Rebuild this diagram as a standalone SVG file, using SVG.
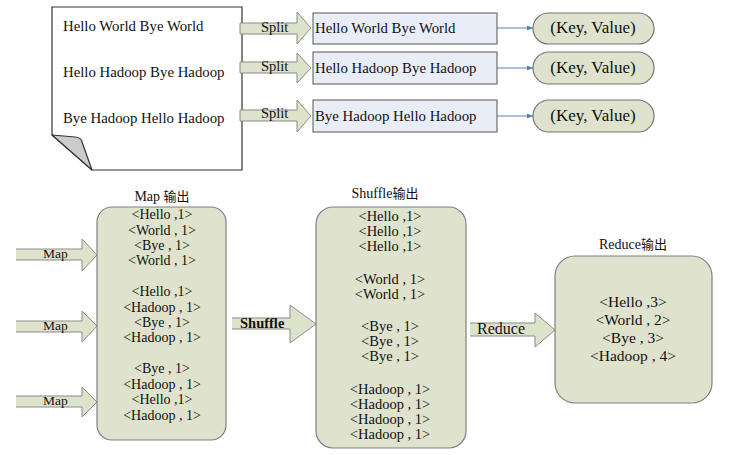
<svg xmlns="http://www.w3.org/2000/svg" width="745" height="455" viewBox="0 0 745 455">
<style>
.t{font-family:"Liberation Serif","Times New Roman","DejaVu Serif",serif;fill:#111}
.cjk{font-family:"Noto Sans CJK SC","Noto Sans CJK TC",sans-serif}
.arrow{fill:#dde2cb;stroke:#8a8a8a;stroke-width:1}
.rbox{fill:#dfe3cd;stroke:#808080;stroke-width:1.2}
.sbox{fill:#e9edf7;stroke:#555;stroke-width:1}
.pill{fill:#dfe3cd;stroke:#777;stroke-width:1.2}
.blue{stroke:#4f81bd;stroke-width:1.2;fill:none}
.c{text-anchor:middle}
</style>
<defs>
<marker id="bh" viewBox="0 0 10 10" refX="10" refY="5" markerWidth="6" markerHeight="6" orient="auto" markerUnits="userSpaceOnUse">
<path d="M0,1 L10,5 L0,9 z" fill="#4f81bd"/>
</marker>
</defs>
<rect width="745" height="455" fill="#fff"/>

<g id="document">
<path d="M52,7 H242 V170 H92 L52,135 Z" fill="#fff" stroke="#333" stroke-width="1.2"/>
<path d="M52,135 L75,137 Q82,138 82,142 L92,170 Z" fill="#cccccc" stroke="#333" stroke-width="1.2" stroke-linejoin="round"/>
<text class="t" x="63" y="31" font-size="14.8">Hello World Bye World</text>
<text class="t" x="63" y="77" font-size="14.8">Hello Hadoop Bye Hadoop</text>
<text class="t" x="63" y="123" font-size="14.8">Bye Hadoop Hello Hadoop</text>
</g>

<g id="connectors">
<path class="arrow" d="M240,23 H297 V12 L311,28 L297,44 V34 H240 Z"/>
<text class="t" x="261" y="32" font-size="14.5">Split</text>
<path class="arrow" d="M240,62 H297 V53 L311,68 L297,83 V73 H240 Z"/>
<text class="t" x="261" y="71" font-size="14.5">Split</text>
<path class="arrow" d="M240,110 H297 V100 L311,116 L297,132 V121 H240 Z"/>
<text class="t" x="261" y="118" font-size="14.5">Split</text>

<line class="blue" x1="497" y1="28" x2="533" y2="28" marker-end="url(#bh)"/>
<line class="blue" x1="497" y1="68" x2="533" y2="68" marker-end="url(#bh)"/>
<line class="blue" x1="497" y1="116" x2="533" y2="116" marker-end="url(#bh)"/>

<path class="arrow" d="M16,249 H82 V239 L97,255 L82,271 V260 H16"/>
<text class="t" x="43" y="258" font-size="13.5">Map</text>
<path class="arrow" d="M16,321 H82 V311 L97,326 L82,342 V332 H16"/>
<text class="t" x="43" y="330" font-size="13.5">Map</text>
<path class="arrow" d="M16,396 H82 V387 L97,402 L82,417 V407 H16"/>
<text class="t" x="43" y="405" font-size="13.5">Map</text>

<path class="arrow" d="M232,318 H290 V305 L316,324 L290,343 V329 H232"/>
<text class="t" x="240" y="328" font-size="14.5" font-weight="bold">Shuffle</text>

<path class="arrow" d="M470,323 H535 V313 L555,330 L535,347 V336 H470"/>
<text class="t" x="477" y="334" font-size="16">Reduce</text>
</g>

<g id="split1">
<rect class="sbox" x="313" y="13" width="184" height="31"/>
<text class="t" x="315" y="33" font-size="14.8">Hello World Bye World</text>
</g>
<g id="split2">
<rect class="sbox" x="313" y="52" width="184" height="32"/>
<text class="t" x="315" y="73" font-size="14.8">Hello Hadoop Bye Hadoop</text>
</g>
<g id="split3">
<rect class="sbox" x="313" y="100" width="184" height="32"/>
<text class="t" x="315" y="121" font-size="14.8">Bye Hadoop Hello Hadoop</text>
</g>

<g id="kv1">
<rect class="pill" x="533" y="13" width="121" height="31" rx="15.5"/>
<text class="t c" x="593" y="33" font-size="17">(Key, Value)</text>
</g>
<g id="kv2">
<rect class="pill" x="533" y="52" width="121" height="32" rx="16"/>
<text class="t c" x="593" y="73" font-size="17">(Key, Value)</text>
</g>
<g id="kv3">
<rect class="pill" x="533" y="100" width="121" height="32" rx="16"/>
<text class="t c" x="593" y="121" font-size="17">(Key, Value)</text>
</g>

<g id="map-output">
<text class="t c" x="162" y="201" font-size="14">Map <tspan class="cjk" font-size="13">输出</tspan></text>
<rect class="rbox" x="97" y="207" width="129" height="233" rx="15"/>
<g class="t c" font-size="14">
<text x="162" y="219">&lt;Hello ,1&gt;</text>
<text x="162" y="235">&lt;World , 1&gt;</text>
<text x="162" y="250">&lt;Bye , 1&gt;</text>
<text x="162" y="265">&lt;World , 1&gt;</text>
<text x="162" y="296">&lt;Hello ,1&gt;</text>
<text x="162" y="312">&lt;Hadoop , 1&gt;</text>
<text x="162" y="327">&lt;Bye , 1&gt;</text>
<text x="162" y="342">&lt;Hadoop , 1&gt;</text>
<text x="162" y="373">&lt;Bye , 1&gt;</text>
<text x="162" y="389">&lt;Hadoop , 1&gt;</text>
<text x="162" y="404">&lt;Hello ,1&gt;</text>
<text x="162" y="420">&lt;Hadoop , 1&gt;</text>
</g>
</g>

<g id="shuffle-output">
<text class="t c" x="385" y="198" font-size="14">Shuffle<tspan class="cjk" font-size="13">输出</tspan></text>
<rect class="rbox" x="316" y="207" width="150" height="241" rx="17"/>
<g class="t c" font-size="14.5">
<text x="390" y="221">&lt;Hello ,1&gt;</text>
<text x="390" y="236">&lt;Hello ,1&gt;</text>
<text x="390" y="251">&lt;Hello ,1&gt;</text>
<text x="390" y="284">&lt;World , 1&gt;</text>
<text x="390" y="299">&lt;World , 1&gt;</text>
<text x="390" y="331">&lt;Bye , 1&gt;</text>
<text x="390" y="346">&lt;Bye , 1&gt;</text>
<text x="390" y="361">&lt;Bye , 1&gt;</text>
<text x="390" y="394">&lt;Hadoop , 1&gt;</text>
<text x="390" y="409">&lt;Hadoop , 1&gt;</text>
<text x="390" y="424">&lt;Hadoop , 1&gt;</text>
<text x="390" y="439">&lt;Hadoop , 1&gt;</text>
</g>
</g>

<g id="reduce-output">
<text class="t c" x="633" y="249" font-size="14">Reduce<tspan class="cjk" font-size="13">输出</tspan></text>
<rect class="rbox" x="555" y="256" width="157" height="147" rx="20"/>
<g class="t c" font-size="15.5">
<text x="633" y="307">&lt;Hello ,3&gt;</text>
<text x="633" y="325">&lt;World , 2&gt;</text>
<text x="633" y="343">&lt;Bye , 3&gt;</text>
<text x="633" y="361">&lt;Hadoop , 4&gt;</text>
</g>
</g>
</svg>
